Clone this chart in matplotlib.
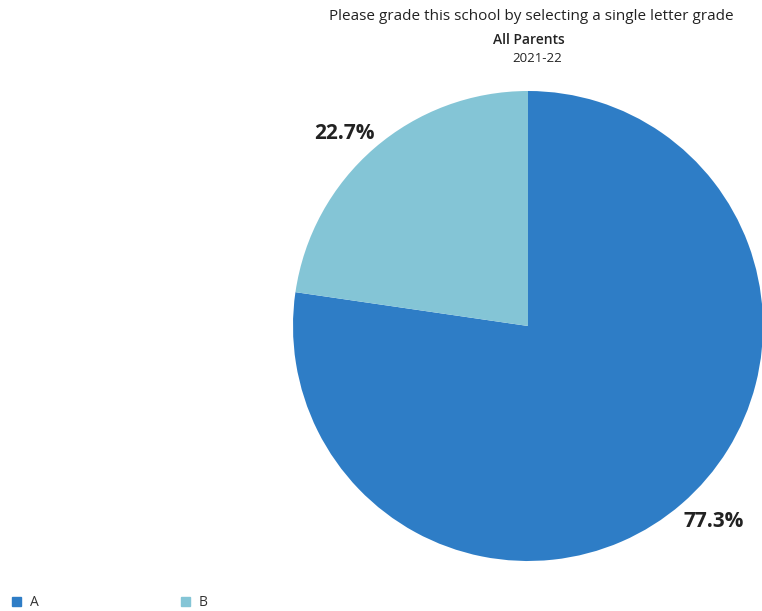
import matplotlib.pyplot as plt
from matplotlib.patches import Rectangle

# data
grades = ["A", "B"]
shares = [77.3, 22.7]
colors = ["#2e7dc6", "#84c5d6"]

title = "Please grade this school by selecting a single letter grade"
subtitle = "All Parents"
year = "2021-22"

plt.rcParams['font.family'] = ['Open Sans', 'DejaVu Sans']

fig = plt.figure(figsize=(7.62, 6.11), dpi=100)
ax = fig.add_axes([293 / 762, 50 / 611, 470 / 762, 470 / 611])

wedges, texts, autotexts = ax.pie(
    shares, colors=colors, startangle=90, counterclock=False,
    autopct='%1.1f%%', pctdistance=1.15, radius=1.0,
    wedgeprops=dict(linewidth=0),
    textprops=dict(fontsize=15, fontweight='bold', color='#222222'))
ax.set_xlim(-1, 1)
ax.set_ylim(-1, 1)
ax.set_aspect('equal')

# nudge percentage labels to where the reference has them
autotexts[0].set_position((0.79, -0.83))
autotexts[1].set_position((-0.78, 0.82))

fig.text(531 / 762, 1 - 17 / 611, title, ha='center', va='center',
         fontsize=11, color='#222222')
fig.text(529 / 762, 1 - 40 / 611, subtitle, ha='center', va='center',
         fontsize=10, fontweight='semibold', color='#222222')
fig.text(537 / 762, 1 - 58 / 611, year, ha='center', va='center',
         fontsize=9.5, color='#222222')

# legend
leg_x = [12, 181]
for g, c, lx in zip(grades, colors, leg_x):
    fig.patches.append(Rectangle((lx / 762, 1 - 606 / 611), 9 / 762, 9 / 611,
                                 transform=fig.transFigure, color=c))
    fig.text((lx + 18) / 762, 1 - 602 / 611, g, ha='left', va='center',
             fontsize=10, color='#333333')

fig.savefig('out.png', dpi=100)
